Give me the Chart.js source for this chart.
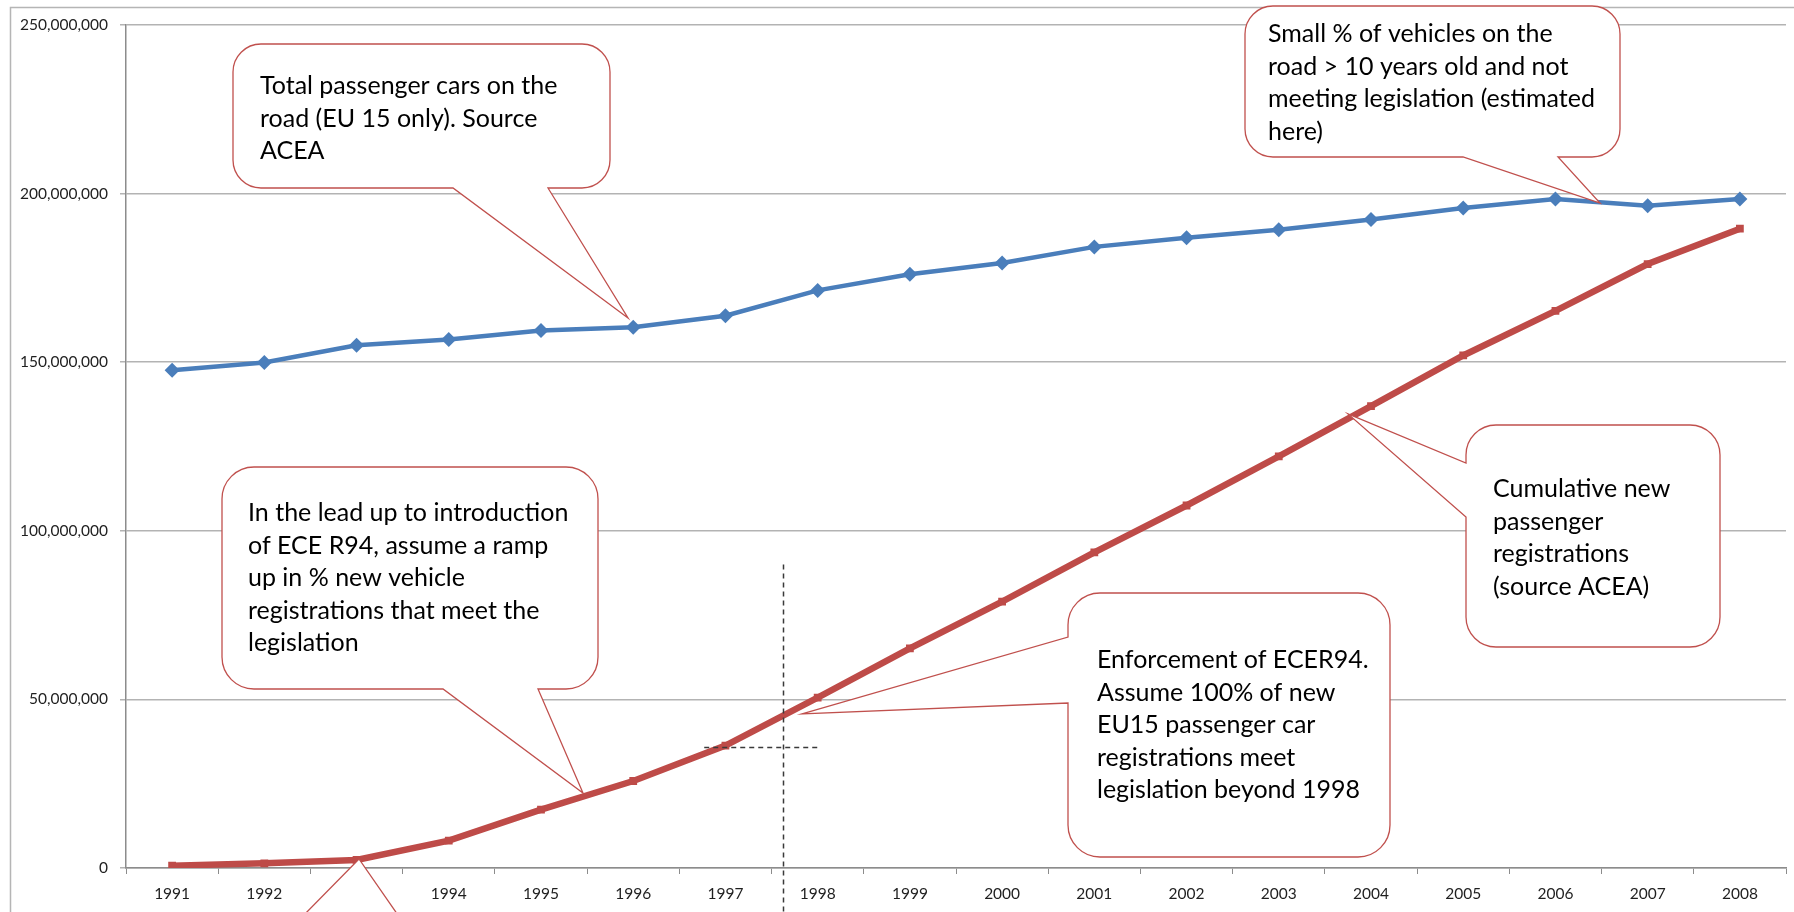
<!DOCTYPE html>
<html>
<head>
<meta charset="utf-8">
<script src="https://cdn.jsdelivr.net/npm/chart.js@4/dist/chart.umd.min.js"></script>
<style>
html,body{margin:0;padding:0;background:#fff;}
canvas{display:block;}
</style>
</head>
<body>
<canvas id="c" width="1794" height="912"></canvas>
<script>
// ---- data ----
const years = ['1991','1992','1993','1994','1995','1996','1997','1998','1999','2000','2001','2002','2003','2004','2005','2006','2007','2008'];
const totalCars = [147600000,149900000,155000000,156700000,159400000,160400000,163800000,171300000,176100000,179400000,184200000,186900000,189300000,192300000,195700000,198400000,196400000,198400000];
const cumulativeRegs = [700000,1400000,2400000,8100000,17300000,25800000,36300000,50500000,65100000,79000000,93600000,107500000,122100000,137000000,152000000,165200000,179100000,189600000];
const yTicks = [0,50000000,100000000,150000000,200000000,250000000];

// ---- callout annotations (layout) ----
const callouts = [
  {box:[233,44,377,144], r:28, side:'bottom', base:[453,548], tip:[628,318],
   text:['Total passenger cars on the','road (EU 15 only). Source','ACEA'], tx:260, ty:94},
  {box:[1245,6,375,151], r:28, side:'bottom', base:[1463,1558], tip:[1600,203],
   text:['Small % of vehicles on the','road > 10 years old and not','meeting legislation (estimated','here)'], tx:1268, ty:42},
  {box:[222,467,376,222], r:32, side:'bottom', base:[443,538], tip:[583,793],
   text:['In the lead up to introduction','of ECE R94, assume a ramp','up in % new vehicle','registrations that meet the','legislation'], tx:248, ty:521},
  {box:[230,918,260,140], r:30, side:'top', base:[301,400], tip:[359,859], text:[]},
  {box:[1068,593,322,264], r:32, side:'left', base:[637,703], tip:[802,714],
   text:['Enforcement of ECER94.','Assume 100% of new','EU15 passenger car','registrations meet','legislation beyond 1998'], tx:1097, ty:668},
  {box:[1466,425,254,222], r:30, side:'left', base:[463,517], tip:[1348,414],
   text:['Cumulative new','passenger','registrations','(source ACEA)'], tx:1493, ty:497}
];

function calloutPath(ctx, c){
  const [x,y,w,h] = c.box, r = c.r;
  ctx.beginPath();
  ctx.moveTo(x+r, y);
  if (c.side==='top'){ ctx.lineTo(c.base[0], y); ctx.lineTo(c.tip[0], c.tip[1]); ctx.lineTo(c.base[1], y); }
  ctx.lineTo(x+w-r, y);
  ctx.arcTo(x+w, y, x+w, y+r, r);
  ctx.lineTo(x+w, y+h-r);
  ctx.arcTo(x+w, y+h, x+w-r, y+h, r);
  if (c.side==='bottom'){ ctx.lineTo(c.base[1], y+h); ctx.lineTo(c.tip[0], c.tip[1]); ctx.lineTo(c.base[0], y+h); }
  ctx.lineTo(x+r, y+h);
  ctx.arcTo(x, y+h, x, y+h-r, r);
  if (c.side==='left'){ ctx.lineTo(x, c.base[1]); ctx.lineTo(c.tip[0], c.tip[1]); ctx.lineTo(x, c.base[0]); }
  ctx.lineTo(x, y+r);
  ctx.arcTo(x, y, x+r, y, r);
  ctx.closePath();
}

const annotationPlugin = {
  id: 'annot',
  beforeDraw(chart){
    const ctx = chart.ctx;
    ctx.save();
    ctx.fillStyle = '#fff';
    ctx.fillRect(0,0,chart.width,chart.height);
    ctx.strokeStyle = '#b5b5b5';
    ctx.lineWidth = 1.5;
    ctx.strokeRect(10.5, 7.5, 1900, 1000);
    ctx.restore();
  },
  afterDatasetsDraw(chart){
    const ctx = chart.ctx;
    const xs = chart.scales.x, ys = chart.scales.y;
    ctx.save();
    // dashed crosshair
    ctx.strokeStyle = '#3a3a3a';
    ctx.lineWidth = 1.5;
    ctx.setLineDash([5,4]);
    const vx = Math.round(xs.getPixelForValue(6.62)) + 0.5;
    ctx.beginPath();
    ctx.moveTo(vx, ys.getPixelForValue(90000000));
    ctx.lineTo(vx, chart.height);
    ctx.stroke();
    const hy = Math.round(ys.getPixelForValue(cumulativeRegs[6])) + 1.5;
    ctx.beginPath();
    ctx.moveTo(xs.getPixelForValue(5.77), hy);
    ctx.lineTo(xs.getPixelForValue(7.02), hy);
    ctx.stroke();
    ctx.setLineDash([]);
    // callouts
    ctx.font = '25px Lato';
    ctx.textBaseline = 'alphabetic';
    ctx.textAlign = 'left';
    for (const c of callouts){
      calloutPath(ctx, c);
      ctx.fillStyle = '#fff';
      ctx.fill();
      ctx.strokeStyle = '#c0504d';
      ctx.lineWidth = 1.3;
      ctx.stroke();
      ctx.fillStyle = '#000';
      c.text.forEach((t,i)=>ctx.fillText(t, c.tx, c.ty + i*32.5));
    }
    ctx.restore();
  }
};

new Chart(document.getElementById('c'), {
  type: 'line',
  data: {
    labels: years,
    datasets: [
      {
        label: 'Total passenger cars on the road',
        data: totalCars,
        borderColor: '#4a7ebb',
        backgroundColor: '#4a7ebb',
        borderWidth: 4.5,
        pointStyle: 'rectRot',
        pointRadius: 7.5,
        pointBorderWidth: 0,
        tension: 0
      },
      {
        label: 'Cumulative new passenger registrations',
        data: cumulativeRegs,
        borderColor: '#be4b48',
        backgroundColor: '#be4b48',
        borderWidth: 6.5,
        pointStyle: 'rect',
        pointRadius: 5.5,
        pointBorderWidth: 0,
        tension: 0
      }
    ]
  },
  options: {
    responsive: false,
    animation: false,
    devicePixelRatio: 1,
    layout: { padding: { left: 0, right: 8, top: 25, bottom: 0 } },
    plugins: { legend: { display: false }, tooltip: { enabled: false } },
    scales: {
      x: {
        offset: true,
        grid: { display: true, drawOnChartArea: false, drawTicks: true, tickLength: 6, offset: true, color: '#8c8c8c' },
        border: { display: true, color: '#8c8c8c', width: 1.5 },
        ticks: { color: '#1f1f1f', font: { family: 'Lato', size: 15.5 }, padding: 11, maxRotation: 0, autoSkip: false },
        afterFit(s){ s.height = 44; }
      },
      y: {
        min: 0, max: 250000000,
        afterBuildTicks(s){ s.ticks = yTicks.map(v=>({value:v})); },
        grid: { color: '#b3b3b3', lineWidth: 1.5, tickLength: 6 },
        border: { display: true, color: '#8c8c8c', width: 1.5 },
        ticks: { color: '#1f1f1f', font: { family: 'Lato', size: 15.5 }, padding: 12,
          callback: v => Number(v).toLocaleString('en-US') },
        afterFit(s){ s.width = 126; }
      }
    }
  },
  plugins: [annotationPlugin]
});
</script>
</body>
</html>
